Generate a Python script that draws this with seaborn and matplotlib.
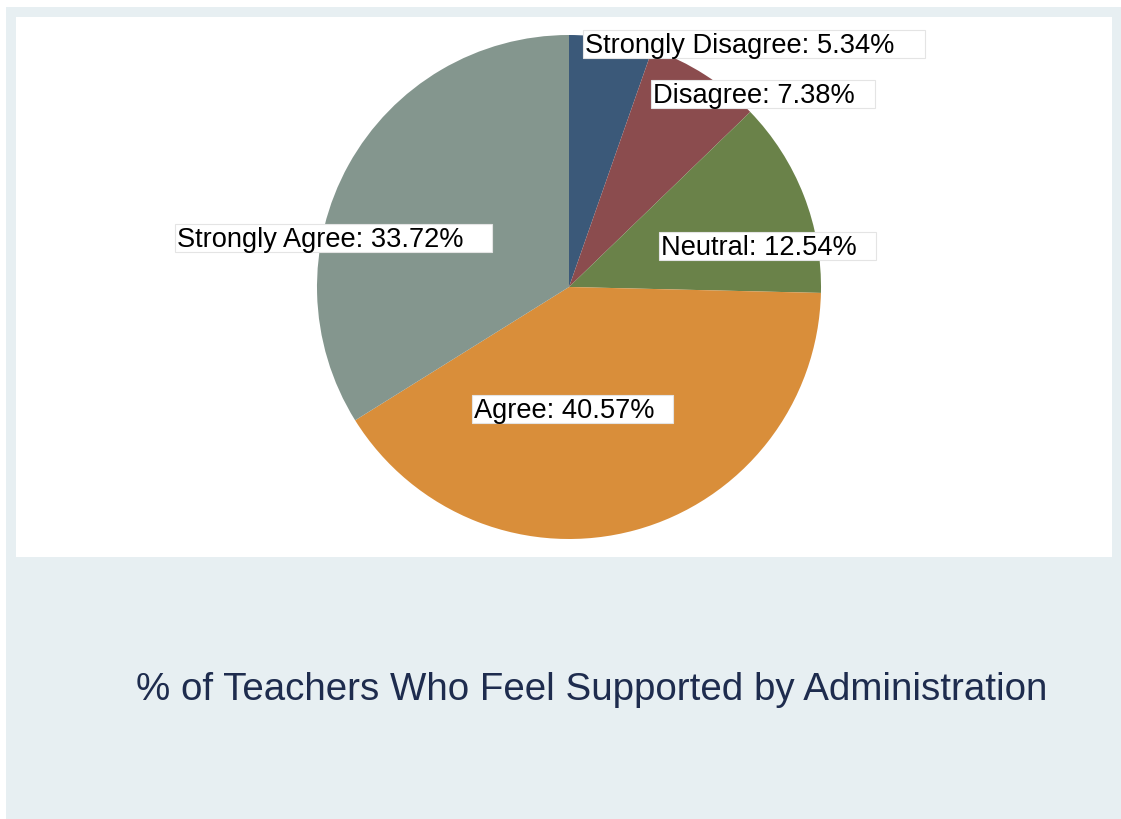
import matplotlib
matplotlib.use("Agg")
import matplotlib.pyplot as plt
from matplotlib.patches import Rectangle
import seaborn as sns

# Survey responses: share of teachers who feel supported by administration
categories = ["Strongly Disagree", "Disagree", "Neutral", "Agree", "Strongly Agree"]
shares = [5.34, 7.38, 12.54, 40.57, 33.72]
slice_colors = ["#3b5979", "#8b4c4e", "#6a8249", "#d98e3a", "#84968e"]
title = "% of Teachers Who Feel Supported by Administration"

# label anchors (left edge, baseline) in pie units, radius = 1
label_x = [0.063, 0.333, 0.365, -0.377, -1.556]
label_y = [0.929, 0.730, 0.127, -0.520, 0.159]

sns.set_theme(style="white")
plt.rcParams["font.family"] = ["Liberation Sans", "DejaVu Sans"]
palette = sns.color_palette(slice_colors)

W, H = 1121, 819
fig = plt.figure(figsize=(W / 100, H / 100), dpi=100, facecolor="white")


def fig_rect(x0, y0, x1, y1):
    """Pixel box (top-left origin) -> figure fraction [left, bottom, width, height]."""
    return [x0 / W, 1 - y1 / H, (x1 - x0) / W, (y1 - y0) / H]


# outer tinted panel behind the white plot region
l, b, w, h = fig_rect(6, 7, W, H)
fig.patches.append(Rectangle((l, b), w, h, transform=fig.transFigure,
                             facecolor="#e7eff2", edgecolor="none", zorder=-10))

ax = fig.add_axes(fig_rect(16, 17, 1112, 557))
ax.set_zorder(1)
ax.set_facecolor("white")

cx, cy, r = 569, 287, 252
ax.pie(shares, colors=palette, startangle=90, counterclock=False,
       radius=1, center=(0, 0), frame=True,
       wedgeprops=dict(linewidth=0, edgecolor="none"))
ax.set_xlim((16 - cx) / r, (1112 - cx) / r)
ax.set_ylim((cy - 557) / r, (cy - 17) / r)
ax.set_aspect("auto")
ax.set_xticks([])
ax.set_yticks([])
for s in ax.spines.values():
    s.set_visible(False)

texts = []
for cat, val, x, y in zip(categories, shares, label_x, label_y):
    t = ax.text(x, y, f"{cat}: {val:.2f}%", fontsize=19.6, color="black",
                ha="left", va="baseline", zorder=5)
    texts.append(t)

# white label boxes, extended to the right by about a tenth of the text width
fig.canvas.draw()
renderer = fig.canvas.get_renderer()
for t in texts:
    bb = t.get_window_extent(renderer)
    base = ax.transData.transform((0, t.get_position()[1]))[1]
    x0 = bb.x0 - 1.5
    x1 = bb.x1 + 0.1 * bb.width
    y0 = base - 5
    y1 = base + 23
    box = Rectangle((x0, y0), x1 - x0, y1 - y0, transform=None,
                    facecolor="white", edgecolor="#e4e4e4", linewidth=0.8,
                    zorder=4)
    ax.add_artist(box)

fig.text(592 / W, 1 - 700 / H, title, ha="center", va="baseline",
         fontsize=27.7, color="#1e2c4e", zorder=2)

fig.savefig("out.png", dpi=100, facecolor=fig.get_facecolor())
